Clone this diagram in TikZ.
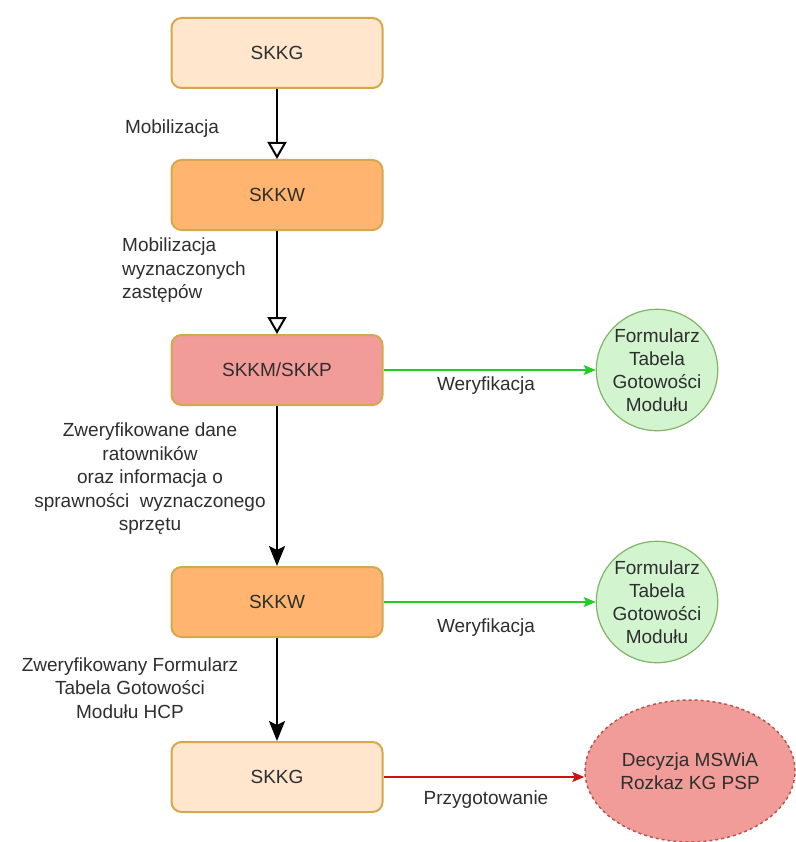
\documentclass[tikz,border=0pt]{standalone}
\usepackage{fontspec}
\setmainfont{Liberation Sans}
\usetikzlibrary{arrows.meta,shapes.geometric}
\definecolor{txt}{HTML}{2E2E2E}
\definecolor{lightorange}{HTML}{FFE6CC}
\definecolor{midorange}{HTML}{FFB570}
\definecolor{salmon}{HTML}{F19C99}
\definecolor{goldline}{HTML}{D6A84E}
\definecolor{greenfill}{HTML}{D2F5D0}
\definecolor{greenline}{HTML}{82B366}
\definecolor{greenarrow}{HTML}{22CC22}
\definecolor{redline}{HTML}{B85450}
\definecolor{redarrow}{HTML}{CC1111}
\tikzset{
  box/.style={draw=goldline, line width=2pt, rounded corners=10pt,
    minimum width=211pt, minimum height=70pt, inner sep=0pt,
    font=\fontsize{19}{23}\selectfont, text=txt},
  circ/.style={circle, draw=greenline, line width=1.2pt, fill=greenfill,
    minimum size=118pt, inner sep=0pt, align=center,
    font=\fontsize{19}{23}\selectfont, text=txt},
  lbl/.style={font=\fontsize{19}{23.5}\selectfont, text=txt, align=center, inner sep=0pt},
  openflow/.style={line width=2pt, -{Triangle[open,width=19pt,length=17pt,line width=2pt]}},
  solidflow/.style={line width=2.5pt, -{Stealth[width=16pt,length=20pt,inset=4pt]}},
  sideflow/.style={line width=1.2pt, -{Stealth[width=10pt,length=12pt,inset=2.5pt]}},
}
\begin{document}
\begin{tikzpicture}[x=1pt,y=-1pt]
  \useasboundingbox[fill=white] (0,0) rectangle (795,842);

  % main chain of boxes
  \node[box, fill=lightorange] (g1) at (277,53) {SKKG};
  \node[box, fill=midorange] (w1) at (277,195) {SKKW};
  \node[box, fill=salmon] (m) at (277,370) {SKKM/SKKP};
  \node[box, fill=midorange] (w2) at (277,602) {SKKW};
  \node[box, fill=lightorange] (g2) at (277,777) {SKKG};

  % side results
  \node[circ] (f1) at (657,370) {Formularz\\Tabela\\Gotowości\\Modułu};
  \node[circ] (f2) at (657,602) {Formularz\\Tabela\\Gotowości\\Modułu};
  \node[ellipse, draw=redline, dashed, line width=1.5pt, fill=salmon,
        minimum width=210pt, minimum height=142pt, inner sep=0pt, align=center,
        font=\fontsize{19}{23}\selectfont, text=txt] (d) at (690,771)
        {Decyzja MSWiA\\Rozkaz KG PSP};

  % vertical flow
  \draw[openflow] (g1) -- (w1);
  \draw[openflow] (w1) -- (m);
  \draw[solidflow] (m) -- (w2);
  \draw[solidflow] (w2) -- (g2);

  % horizontal flow
  \draw[sideflow, greenarrow] (m) -- (f1);
  \draw[sideflow, greenarrow] (w2) -- (f2);
  \draw[sideflow, redarrow] (g2.east) -- (g2.east -| d.west);

  % labels
  \node[lbl] (l1) at (172,129) {Mobilizacja};
  \node[lbl, align=left, anchor=north west] (l2) at (122,238) {Mobilizacja\\wyznaczonych\\zastępów};
  \node[lbl] (l3) at (150,479) {Zweryfikowane dane\\ratowników\\oraz informacja o\\sprawności\ \ wyznaczonego\\sprzętu};
  \node[lbl] (l4) at (130,688) {Zweryfikowany Formularz\\Tabela Gotowości\\Modułu HCP};
  \node[lbl] (v1) at (486,386) {Weryfikacja};
  \node[lbl] (v2) at (486,628) {Weryfikacja};
  \node[lbl] (p) at (486,800) {Przygotowanie};
\end{tikzpicture}
\end{document}
